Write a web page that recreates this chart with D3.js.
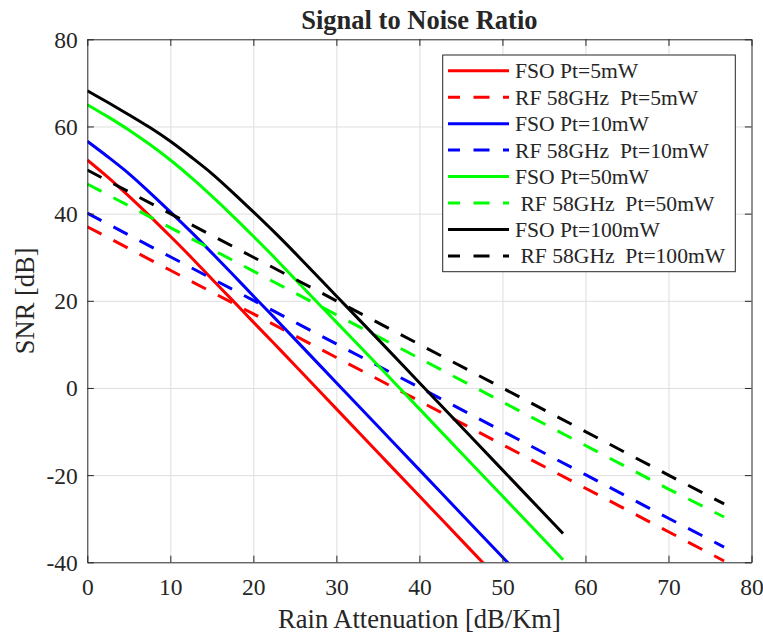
<!DOCTYPE html>
<html>
<head>
<meta charset="utf-8">
<script src="https://cdn.jsdelivr.net/npm/d3@7"></script>
<style>
  body { margin: 0; background: #fff; }
  text { font-family: "Liberation Serif", "Times New Roman", serif; fill: #262626; }
</style>
</head>
<body>
<script>
// rain attenuation samples (dB/Km)
var fsoX = [0, 2.5, 5, 7.5, 10, 12.5, 15, 17.5, 20, 22.5, 25, 30, 35, 40, 45, 50, 57.3];
var rfX = [0, 10, 20, 30, 40, 50, 60, 70, 76.7];

// SNR [dB]
var fso5 = [52.3, 48.3, 44.0, 39.5, 34.8, 30.0, 25.0, 20.1, 15.1, 10.2, 5.2, -4.8, -14.8, -24.8, -34.8, -44.8, -59.4];
var fso10 = [56.6, 53.0, 49.2, 44.9, 40.4, 35.8, 31.0, 26.1, 21.1, 16.2, 11.2, 1.2, -8.8, -18.8, -28.8, -38.8, -53.4];
var fso50 = [65.0, 62.2, 59.2, 55.9, 52.3, 48.3, 44.0, 39.5, 34.8, 30.0, 25.0, 15.1, 5.2, -4.8, -14.8, -24.8, -39.4];
var fso100 = [68.2, 65.5, 62.7, 59.8, 56.6, 53.0, 49.2, 44.9, 40.4, 35.8, 31.0, 21.1, 11.2, 1.2, -8.8, -18.8, -33.4];

var rf5 = [37.0, 27.0, 17.0, 7.0, -3.0, -13.0, -23.0, -33.0, -39.7];
var rf10 = [40.1, 30.1, 20.1, 10.1, 0.1, -9.9, -19.9, -29.9, -36.5];
var rf50 = [46.8, 36.8, 26.8, 16.8, 6.8, -3.2, -13.2, -23.2, -29.6];
var rf100 = [50.0, 40.0, 30.0, 20.0, 10.0, 0.0, -10.0, -20.0, -26.6];

var xTicks = [0, 10, 20, 30, 40, 50, 60, 70, 80];
var yTicks = [-40, -20, 0, 20, 40, 60, 80];

var names = ["FSO Pt=5mW", "RF 58GHz  Pt=5mW", "FSO Pt=10mW", "RF 58GHz  Pt=10mW",
             "FSO Pt=50mW", " RF 58GHz  Pt=50mW", "FSO Pt=100mW", " RF 58GHz  Pt=100mW"];
var colors = ["#ff0000", "#ff0000", "#0000ff", "#0000ff", "#00ff00", "#00ff00", "#000000", "#000000"];

var series = [
  {x: fsoX, y: fso5, dashed: false},
  {x: rfX, y: rf5, dashed: true},
  {x: fsoX, y: fso10, dashed: false},
  {x: rfX, y: rf10, dashed: true},
  {x: fsoX, y: fso50, dashed: false},
  {x: rfX, y: rf50, dashed: true},
  {x: fsoX, y: fso100, dashed: false},
  {x: rfX, y: rf100, dashed: true}
];

var W = 763, H = 634;
var pLeft = 87.3, pTop = 39.3, pRight = 751.5, pBottom = 562.3;
var tickLen = 6.6;
var dash = "16,13.5";

var svg = d3.select("body").append("svg").attr("width", W).attr("height", H);

var x = d3.scaleLinear().domain([0, 80]).range([pLeft, pRight]);
var y = d3.scaleLinear().domain([-40, 80]).range([pBottom, pTop]);

// grid
svg.append("g").attr("transform", "translate(0," + pTop + ")")
  .call(d3.axisBottom(x).tickValues(xTicks.slice(1, -1)).tickSize(pBottom - pTop).tickFormat(""))
  .call(function(g){ g.select(".domain").remove(); g.selectAll("line").attr("stroke", "#dedede"); });
svg.append("g").attr("transform", "translate(" + pLeft + ",0)")
  .call(d3.axisRight(y).tickValues(yTicks.slice(1, -1)).tickSize(pRight - pLeft).tickFormat(""))
  .call(function(g){ g.select(".domain").remove(); g.selectAll("line").attr("stroke", "#dedede"); });

// data lines, clipped to the axes box
svg.append("clipPath").attr("id", "clip")
  .append("rect").attr("x", pLeft).attr("y", pTop).attr("width", pRight - pLeft).attr("height", pBottom - pTop);

var plot = svg.append("g").attr("clip-path", "url(#clip)");
series.forEach(function(s, i){
  var line = d3.line()
    .x(function(d){ return x(d[0]); })
    .y(function(d){ return y(d[1]); })
    .curve(s.dashed ? d3.curveLinear : d3.curveCatmullRom.alpha(0.5));
  plot.append("path")
    .datum(s.x.map(function(v, j){ return [v, s.y[j]]; }))
    .attr("d", line)
    .attr("fill", "none")
    .attr("stroke", colors[i])
    .attr("stroke-width", 3)
    .attr("stroke-dasharray", s.dashed ? dash : null);
});

// axes with inward ticks on all four sides
var fmt = function(d){ return String(d); };
function styleAxis(g){
  g.select(".domain").attr("stroke", "#262626").attr("stroke-width", 1);
  g.selectAll(".tick line").attr("stroke", "#262626");
  g.selectAll(".tick text").style("font-family", "Liberation Serif").style("font-size", "23.5px").attr("fill", "#262626");
}
svg.append("g").attr("transform", "translate(0," + pBottom + ")")
  .call(d3.axisBottom(x).tickValues(xTicks).tickFormat(fmt).tickSizeInner(-tickLen).tickSizeOuter(0).tickPadding(16))
  .call(styleAxis);
svg.append("g").attr("transform", "translate(0," + pTop + ")")
  .call(d3.axisTop(x).tickValues(xTicks).tickSizeInner(-tickLen).tickSizeOuter(0).tickFormat(""))
  .call(styleAxis);
svg.append("g").attr("transform", "translate(" + pLeft + ",0)")
  .call(d3.axisLeft(y).tickValues(yTicks).tickFormat(fmt).tickSizeInner(-tickLen).tickSizeOuter(0).tickPadding(9.6))
  .call(styleAxis)
  .call(function(g){ g.selectAll(".tick text").attr("dy", "0.34em"); });
svg.append("g").attr("transform", "translate(" + pRight + ",0)")
  .call(d3.axisRight(y).tickValues(yTicks).tickSizeInner(-tickLen).tickSizeOuter(0).tickFormat(""))
  .call(styleAxis);

// title and labels
svg.append("text")
  .attr("x", (pLeft + pRight) / 2).attr("y", 29)
  .attr("text-anchor", "middle")
  .style("font-size", "26.5px").style("font-weight", "bold").attr("fill", "#000")
  .text("Signal to Noise Ratio");
svg.append("text")
  .attr("x", (pLeft + pRight) / 2).attr("y", 628)
  .attr("text-anchor", "middle")
  .style("font-size", "26.5px")
  .text("Rain Attenuation [dB/Km]");
svg.append("text")
  .attr("transform", "translate(33.5," + ((pTop + pBottom) / 2) + ") rotate(-90)")
  .attr("text-anchor", "middle")
  .style("font-size", "26.5px")
  .text("SNR [dB]");

// legend
var lg = svg.append("g");
lg.append("rect")
  .attr("x", 442.7).attr("y", 55).attr("width", 292.6).attr("height", 216.7)
  .attr("fill", "#fff").attr("stroke", "#262626").attr("stroke-width", 1);
names.forEach(function(n, i){
  var cy = 70.7 + i * 26.47;
  lg.append("line")
    .attr("x1", 448).attr("x2", 509).attr("y1", cy).attr("y2", cy)
    .attr("stroke", colors[i]).attr("stroke-width", 3)
    .attr("stroke-dasharray", series[i].dashed ? dash : null)
    .attr("stroke-dashoffset", series[i].dashed ? 4 : null);
  lg.append("text")
    .attr("x", 515).attr("y", cy + 7.5)
    .attr("xml:space", "preserve")
    .style("white-space", "pre")
    .style("font-size", "21.6px").attr("fill", "#000")
    .text(n);
});
</script>
</body>
</html>
